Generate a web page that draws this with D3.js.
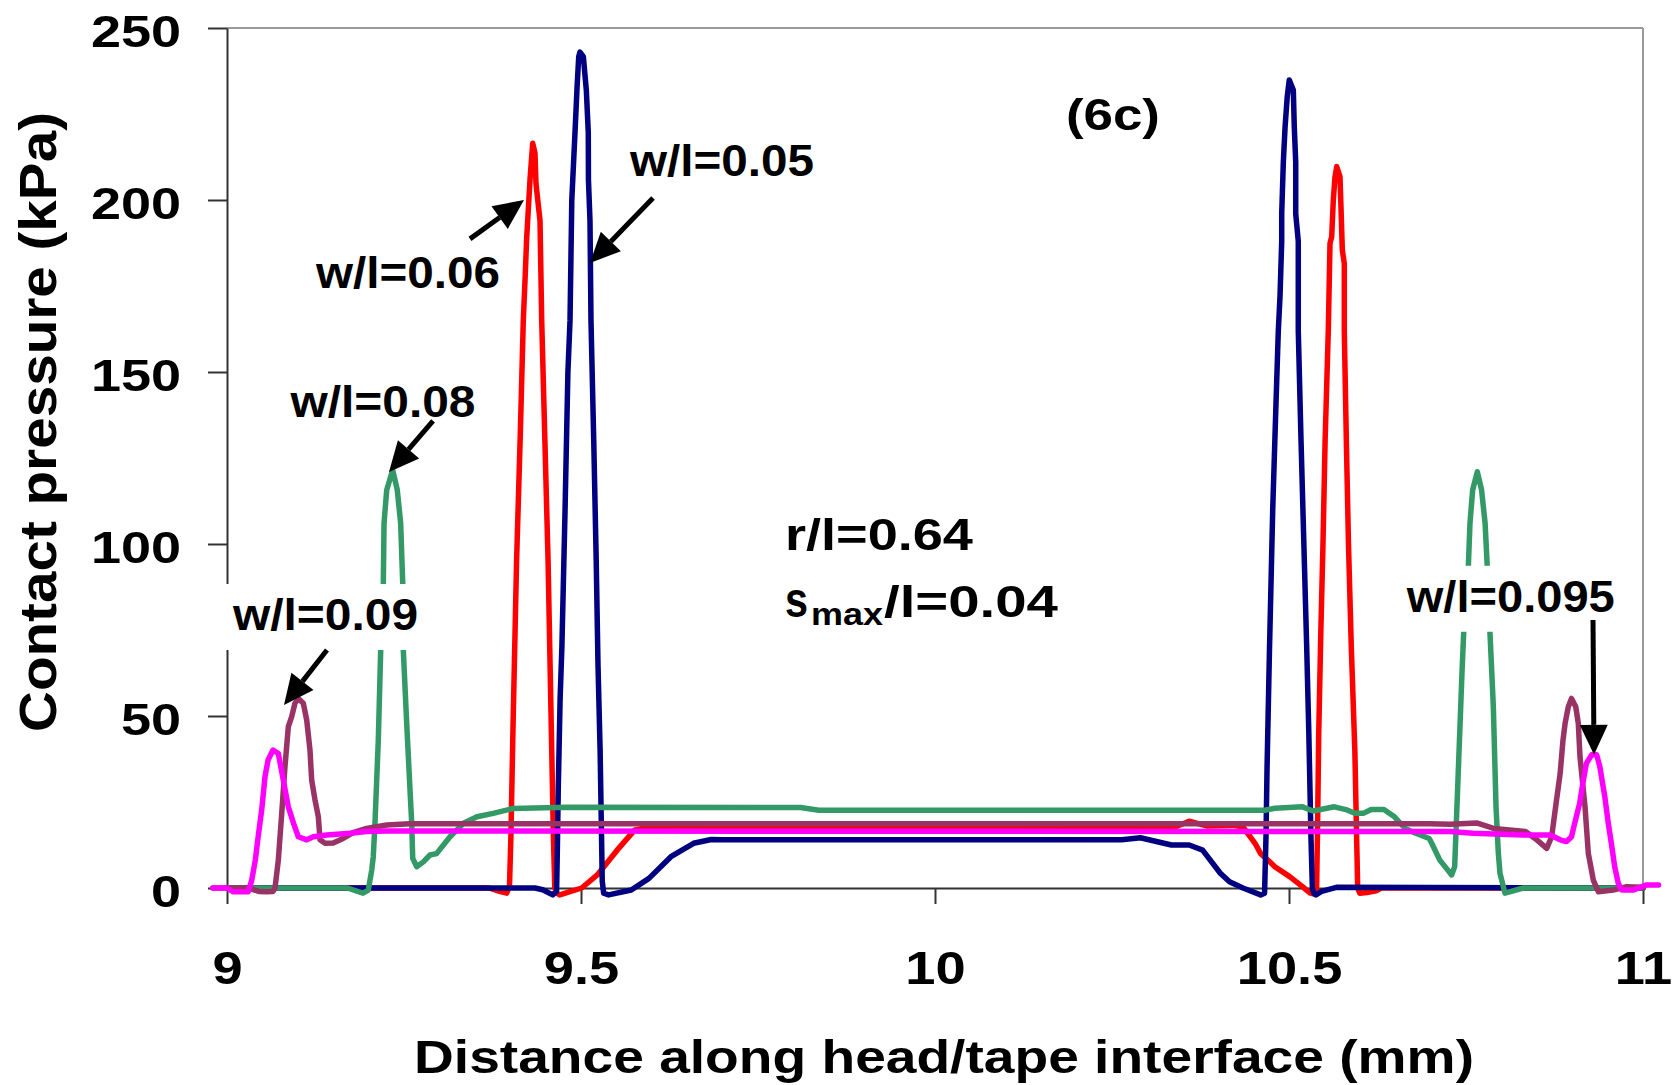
<!DOCTYPE html>
<html>
<head>
<meta charset="utf-8">
<script src="https://cdnjs.cloudflare.com/ajax/libs/d3/7.8.5/d3.min.js"></script>
<style>
  html, body { margin: 0; padding: 0; background: #fff; }
  svg { display: block; }
  text { font-family: "Liberation Sans", Arial, sans-serif; font-weight: bold; fill: #000; }
</style>
</head>
<body>
<svg id="chart" width="1675" height="1085"></svg>
<script>
// THE DATA (distance in mm, contact pressure in kPa)
const xTicks = [9, 9.5, 10, 10.5, 11];
const yTicks = [0, 50, 100, 150, 200, 250];

// w/l = 0.06
const redX = [9.0, 9.37, 9.385, 9.395, 9.399, 9.401, 9.404, 9.409, 9.414, 9.4185, 9.421, 9.4233, 9.4247, 9.428, 9.4318, 9.435, 9.4364, 9.4421, 9.4435, 9.4445, 9.449, 9.4535, 9.458, 9.461, 9.463, 9.466, 9.47, 9.501, 9.523, 9.551, 9.576, 9.601, 9.64, 10.30, 10.34, 10.359, 10.385, 10.42, 10.435, 10.452, 10.46, 10.475, 10.48, 10.501, 10.519, 10.53, 10.537, 10.539, 10.5405, 10.542, 10.545, 10.548, 10.551, 10.5555, 10.5579, 10.5603, 10.5626, 10.565, 10.5674, 10.572, 10.5734, 10.5753, 10.5781, 10.5781, 10.581, 10.584, 10.588, 10.593, 10.596, 10.597, 10.6, 10.61, 10.623, 10.63, 11.0];
const redY = [0, 0, -1, -1.5, 0.5, 15, 47, 95, 130, 165, 177, 189, 194, 206, 216.5, 213.6, 204.8, 194, 177, 165, 130, 95, 47, 15, 0, -1.5, -2, 0, 3.8, 11, 16.9, 17.8, 18, 17.8, 17.8, 19.4, 18, 18.2, 17.8, 13, 10, 7.2, 6.2, 3.3, 0.4, -1.5, -1.8, 0, 20, 45, 75, 100, 130, 162, 187.4, 189.3, 200, 206.8, 209.7, 206.8, 198, 185.5, 181.6, 162, 130, 100, 70, 40, 10, 0, -1.5, -1.3, -0.8, 0, 0];

// w/l = 0.05
const navyX = [9.0, 9.435, 9.446, 9.46, 9.4655, 9.4665, 9.468, 9.4705, 9.473, 9.4775, 9.4815, 9.4845, 9.487, 9.4915, 9.4945, 9.4968, 9.4986, 9.5033, 9.5075, 9.5103, 9.5105, 9.5127, 9.5141, 9.518, 9.5215, 9.524, 9.527, 9.529, 9.53, 9.532, 9.539, 9.571, 9.596, 9.627, 9.659, 9.684, 9.70, 10.264, 10.29, 10.334, 10.359, 10.378, 10.403, 10.416, 10.435, 10.46, 10.4655, 10.4675, 10.469, 10.471, 10.4725, 10.477, 10.4815, 10.4849, 10.4873, 10.4897, 10.4897, 10.492, 10.4944, 10.4975, 10.5004, 10.5061, 10.5075, 10.5095, 10.5095, 10.5131, 10.5131, 10.517, 10.521, 10.525, 10.528, 10.531, 10.533, 10.535, 10.538, 10.546, 10.567, 11.0];
const navyY = [0, 0, -0.5, -2, -1, 10, 30, 55, 70, 110, 150, 165, 200, 219.5, 233, 241.7, 243, 241.7, 232, 219.5, 206, 194, 165, 130, 95, 65, 40, 15, 2, -1.5, -2, -0.6, 2.8, 9.1, 13, 14.1, 14, 14, 14.6, 12.5, 12.5, 11, 4.3, 1.8, 0, -2, -1.5, 15, 35, 55, 70, 110, 140, 162, 172, 188, 196, 211, 221, 230, 234.9, 232, 221, 211, 196, 188, 162, 130, 100, 70, 45, 15, 0, -1.5, -2, -1, 0.2, 0];

// w/l = 0.08
const greenX = [9.0, 9.17, 9.192, 9.1996, 9.2044, 9.2066, 9.209, 9.2137, 9.2171, 9.2208, 9.2218, 9.2256, 9.234, 9.2405, 9.2453, 9.2482, 9.249, 9.2538, 9.2585, 9.2609, 9.2623, 9.2679, 9.2773, 9.2867, 9.296, 9.315, 9.334, 9.353, 9.376, 9.404, 9.48, 9.81, 9.836, 10.466, 10.48, 10.519, 10.534, 10.564, 10.582, 10.593, 10.605, 10.616, 10.634, 10.649, 10.664, 10.679, 10.698, 10.7016, 10.713, 10.7298, 10.734, 10.739, 10.7443, 10.7467, 10.7533, 10.7556, 10.7594, 10.766, 10.772, 10.777, 10.780, 10.7839, 10.7886, 10.7924, 10.7957, 10.798, 10.805, 10.831, 11.0];
const greenY = [0, 0, -1.5, -0.6, 5.2, 9.1, 18.8, 43, 69.2, 88.6, 106, 115.7, 121.5, 115.7, 106, 88.6, 69.2, 47.9, 28.5, 18.8, 8.6, 6.2, 7.6, 9.6, 10, 14.9, 18.8, 20.7, 21.7, 23.1, 23.5, 23.4, 22.6, 22.6, 23.2, 23.6, 22.4, 23.6, 22.7, 21.7, 21.7, 22.8, 22.8, 20.7, 17.3, 15.9, 14.4, 13, 8.1, 3.8, 6.2, 33.3, 62.4, 74, 93.4, 106, 115.7, 121, 115.7, 106, 93.4, 74, 52.7, 23.6, 10, 4.3, -1.5, 0, 0];

// w/l = 0.09
const purpleX = [8.98, 9.03, 9.045, 9.056, 9.065, 9.0678, 9.0725, 9.0773, 9.0819, 9.0866, 9.0914, 9.096, 9.1007, 9.1078, 9.1126, 9.1172, 9.1196, 9.1243, 9.129, 9.1314, 9.1384, 9.150, 9.164, 9.178, 9.197, 9.2256, 9.2585, 10.699, 10.727, 10.765, 10.789, 10.834, 10.85, 10.864, 10.871, 10.876, 10.883, 10.887, 10.89, 10.8945, 10.899, 10.905, 10.9086, 10.911, 10.9181, 10.9228, 10.9298, 10.937, 10.958, 10.977, 11.0];
const purpleY = [0, 0, -1, -1.1, -1, 0, 8.1, 21.7, 35.3, 46.9, 49.8, 53.7, 55.1, 53.7, 48.8, 40.1, 31.4, 25.6, 20.7, 14, 13, 13.1, 14.4, 16.1, 17.3, 18.3, 18.7, 18.7, 18.5, 18.9, 17.3, 16.4, 14, 11.5, 14.9, 22.7, 33.3, 43, 47.9, 52.7, 55.1, 52.7, 47.9, 38.2, 23.6, 10, 2.3, -1.1, -0.6, 0.4, 0.2];

// w/l = 0.095
const magentaX = [8.98, 9.0, 9.009, 9.03, 9.035, 9.04, 9.044, 9.049, 9.0537, 9.058, 9.065, 9.0725, 9.0795, 9.0866, 9.094, 9.1007, 9.1126, 9.122, 9.141, 9.174, 9.197, 9.2256, 10.727, 10.76, 10.831, 10.869, 10.883, 10.892, 10.899, 10.9035, 10.9105, 10.915, 10.92, 10.9275, 10.9346, 10.939, 10.946, 10.951, 10.956, 10.96, 10.965, 10.97, 10.986, 11.005, 11.022];
const magentaY = [0, 0, -1.1, -1.1, 2.3, 8.1, 14.9, 22.7, 32.4, 37.2, 40.1, 39.1, 31.4, 23.6, 18.8, 14.9, 14, 14.9, 15.4, 15.9, 16.4, 16.6, 16.4, 15.9, 15.4, 15.4, 14, 13.5, 14.9, 18.8, 24.6, 30.4, 36.2, 38.7, 38.7, 35.3, 26.6, 18.8, 12, 6.2, 1.4, -0.6, -0.6, 0.9, 0.9];

const noteTexts = ["w/l=0.05", "w/l=0.06", "w/l=0.08", "w/l=0.09", "w/l=0.095"];

// SETTING UP
const svg = d3.select("#chart");
const x = d3.scaleLinear().domain([9, 11]).range([227, 1643]);
const y = d3.scaleLinear().domain([0, 250]).range([888, 28]);

// stretch text along its own direction, the original font is wider
function stretch(sel, k) {
  sel.each(function() {
    const w = this.getComputedTextLength();
    d3.select(this).attr("textLength", w * k).attr("lengthAdjust", "spacingAndGlyphs");
  });
}

// plot frame (top + right in grey)
svg.append("line")
  .attr("x1", x(9)).attr("x2", x(11)).attr("y1", y(250)).attr("y2", y(250))
  .attr("stroke", "#9a9a9a").attr("stroke-width", 2);
svg.append("line")
  .attr("x1", x(11)).attr("x2", x(11)).attr("y1", y(250)).attr("y2", y(0))
  .attr("stroke", "#9a9a9a").attr("stroke-width", 2);

// AXES
const yAxis = svg.append("g")
  .attr("transform", `translate(${x(9)},0)`)
  .call(d3.axisLeft(y).tickValues(yTicks).tickSize(19).tickSizeOuter(0).tickPadding(27));
yAxis.attr("font-size", null).attr("font-family", null);
yAxis.select(".domain").attr("stroke", "#333").attr("stroke-width", 2);
yAxis.selectAll(".tick line").attr("stroke", "#333").attr("stroke-width", 2);
yAxis.selectAll(".tick text").attr("font-size", 45).attr("dy", "0.4em").call(stretch, 1.2);

const xAxis = svg.append("g")
  .attr("transform", `translate(0,${y(0)})`)
  .call(d3.axisBottom(x).tickValues(xTicks).tickSize(16).tickSizeOuter(0).tickPadding(47)
    .tickFormat(d3.format("")));
xAxis.attr("font-size", null).attr("font-family", null);
xAxis.select(".domain").attr("stroke", "#333").attr("stroke-width", 2);
xAxis.selectAll(".tick line").attr("stroke", "#333").attr("stroke-width", 2);
xAxis.selectAll(".tick text").attr("font-size", 46).call(stretch, 1.18);

// axis titles
svg.append("text")
  .attr("x", 414).attr("y", 1073)
  .attr("font-size", 47)
  .text("Distance along head/tape interface (mm)")
  .attr("textLength", 1060).attr("lengthAdjust", "spacingAndGlyphs");

svg.append("text")
  .attr("transform", "translate(56,422) rotate(-90)")
  .attr("text-anchor", "middle")
  .attr("font-size", 52)
  .text("Contact pressure (kPa)")
  .attr("textLength", 620).attr("lengthAdjust", "spacingAndGlyphs");

// THE CURVES (drawn in this order, last on top)
const series = [
  {xs: redX, ys: redY, color: "#ff0000"},
  {xs: navyX, ys: navyY, color: "#000080"},
  {xs: greenX, ys: greenY, color: "#339966"},
  {xs: purpleX, ys: purpleY, color: "#993366"},
  {xs: magentaX, ys: magentaY, color: "#ff00ff"}
];

const line = d3.line().x(d => x(d[0])).y(d => y(d[1]));

svg.append("g")
  .selectAll("path")
  .data(series)
  .join("path")
  .attr("d", d => line(d3.zip(d.xs, d.ys)))
  .attr("fill", "none")
  .attr("stroke", d => d.color)
  .attr("stroke-width", 5.5)
  .attr("stroke-linejoin", "round")
  .attr("stroke-linecap", "round");

// ANNOTATIONS: label start (mm, kPa at baseline), label width px, arrow tail -> tip
const notes = [
  {text: noteTexts[0], at: [9.5692, 207], w: 184, from: [9.6017, 200.6], to: [9.5127, 181.7]},
  {text: noteTexts[1], at: [9.1257, 174.4], w: 184, from: [9.3432, 188.7], to: [9.4195, 200]},
  {text: noteTexts[2], at: [9.0897, 136.9], w: 185, from: [9.2910, 135.8], to: [9.2288, 120.9]},
  {text: noteTexts[3], at: [9.0085, 75], w: 185, from: [9.1412, 69.2], to: [9.0805, 53.2]},
  {text: noteTexts[4], at: [10.6663, 80.3], w: 208, from: [10.9294, 77.9], to: [10.9308, 38.7]}
];

const noteG = svg.append("g");
notes.forEach(n => {
  const px = x(n.at[0]), py = y(n.at[1]);
  noteG.append("rect")
    .attr("x", px - 9).attr("y", py - 46)
    .attr("width", n.w + 18).attr("height", 66)
    .attr("fill", "#fff");
  noteG.append("text")
    .attr("x", px).attr("y", py)
    .attr("font-size", 45)
    .text(n.text)
    .attr("textLength", n.w).attr("lengthAdjust", "spacingAndGlyphs");
});

// arrows
notes.forEach(n => {
  const x1 = x(n.from[0]), y1 = y(n.from[1]);
  const x2 = x(n.to[0]), y2 = y(n.to[1]);
  const a = Math.atan2(y2 - y1, x2 - x1);
  const len = 30, half = 14;
  const bx = x2 - len * Math.cos(a), by = y2 - len * Math.sin(a);
  noteG.append("line")
    .attr("x1", x1).attr("y1", y1).attr("x2", bx).attr("y2", by)
    .attr("stroke", "#000").attr("stroke-width", 5);
  noteG.append("polygon")
    .attr("points", [
      [x2, y2],
      [bx + half * Math.sin(a), by - half * Math.cos(a)],
      [bx - half * Math.sin(a), by + half * Math.cos(a)]
    ].map(p => p.join(",")).join(" "))
    .attr("fill", "#000");
});

// parameter text
svg.append("text")
  .attr("x", x(10.185)).attr("y", y(220.3))
  .attr("font-size", 45)
  .text("(6c)")
  .attr("textLength", 94).attr("lengthAdjust", "spacingAndGlyphs");

svg.append("text")
  .attr("x", x(9.7881)).attr("y", y(98.3))
  .attr("font-size", 45)
  .text("r/l=0.64")
  .attr("textLength", 188).attr("lengthAdjust", "spacingAndGlyphs");

const sx = x(9.7881), sy = y(78.9);
svg.append("text")
  .attr("x", sx).attr("y", sy)
  .attr("font-size", 50)
  .text("s")
  .attr("textLength", 23).attr("lengthAdjust", "spacingAndGlyphs");
svg.append("text")
  .attr("x", sx + 26).attr("y", sy + 8)
  .attr("font-size", 32)
  .text("max")
  .attr("textLength", 72).attr("lengthAdjust", "spacingAndGlyphs");
svg.append("text")
  .attr("x", sx + 99).attr("y", sy)
  .attr("font-size", 45)
  .text("/l=0.04")
  .attr("textLength", 174).attr("lengthAdjust", "spacingAndGlyphs");
</script>
</body>
</html>
